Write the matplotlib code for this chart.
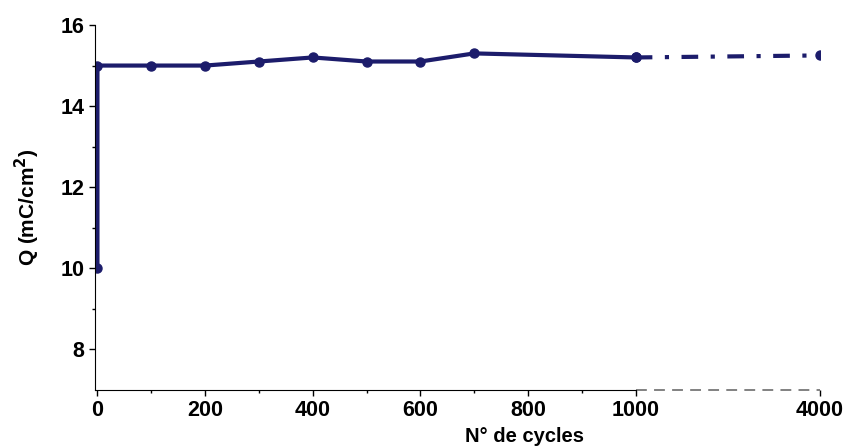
import numpy as np
import matplotlib.pyplot as plt

plt.rcParams['font.family'] = ['Liberation Sans', 'DejaVu Sans']
plt.rcParams['font.weight'] = 'bold'

# données
cycles = [0, 0, 100, 200, 300, 400, 500, 600, 700, 1000]
charge = [10.0, 15.0, 15.0, 15.0, 15.1, 15.2, 15.1, 15.1, 15.3, 15.2]
cycles_fin = [1000, 4000]
charge_fin = [15.2, 15.25]
xticks = [0, 200, 400, 600, 800, 1000, 4000]
yticks = [8, 10, 12, 14, 16]

color = '#1c1c6b'

# échelle coupée après 1000 cycles
k = 0.114
def fwd(x):
    x = np.asarray(x, dtype=float)
    return np.where(x <= 1000, x, 1000 + (x - 1000) * k)
def inv(x):
    x = np.asarray(x, dtype=float)
    return np.where(x <= 1000, x, 1000 + (x - 1000) / k)

fig = plt.figure(figsize=(8.46, 4.47), dpi=100)
ax = fig.add_axes([0.112, 0.128, 0.857, 0.816])
ax.set_xscale('function', functions=(fwd, inv))

ax.plot(cycles, charge, color=color, lw=3, marker='o', ms=6.5)
ax.plot(cycles_fin, charge_fin, color=color, lw=3, marker='o', ms=6.5,
        linestyle=(0, (4, 3, 1, 3)))

ax.set_xlim(-5, 4000)
ax.set_ylim(7, 16)
ax.set_xticks(xticks)
ax.set_xticks([100, 300, 500, 700, 900], minor=True)
ax.set_yticks(yticks)
ax.set_yticks([9, 11, 13, 15], minor=True)
ax.tick_params(labelsize=15.5, length=4, width=1)
ax.tick_params(axis='x', pad=3)
ax.tick_params(which='minor', length=2.5, width=1)
for lab in ax.get_xticklabels() + ax.get_yticklabels():
    lab.set_fontweight('bold')

ax.spines['top'].set_visible(False)
ax.spines['right'].set_visible(False)
ax.spines['bottom'].set_bounds(-5, 1000)
ax.plot([1000, 4000], [7, 7], color='#777777', lw=1.3, linestyle=(0, (6, 4)),
        clip_on=False)

ax.set_ylabel('Q (mC/cm$^{2}$)', fontsize=15, fontweight='bold')
ax.yaxis.set_label_coords(-0.073, 0.5)
ax.set_xlabel('N° de cycles', fontsize=14.5, fontweight='bold')
ax.xaxis.set_label_coords(0.593, -0.102)

fig.savefig('out.png', dpi=100)
